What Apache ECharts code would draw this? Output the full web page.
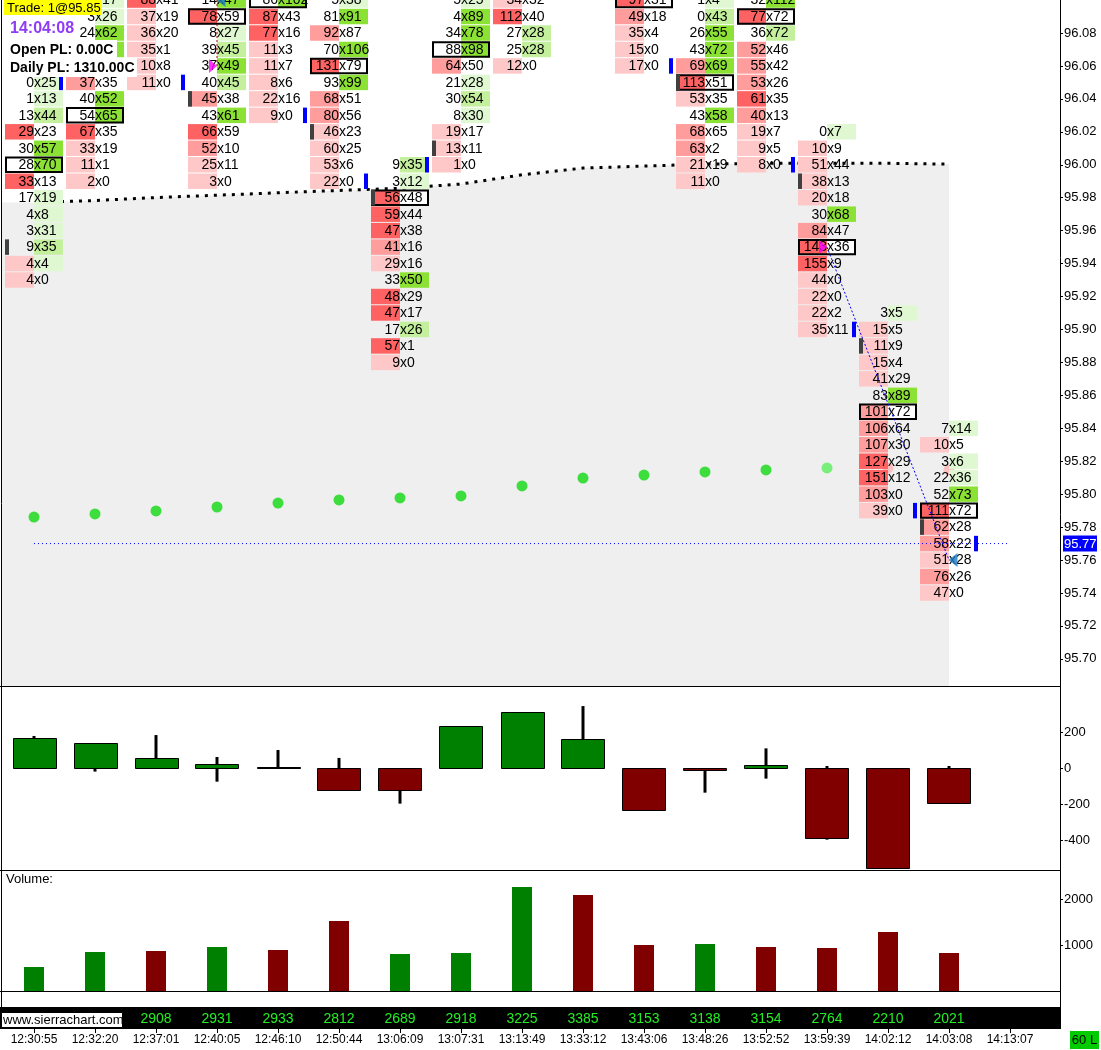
<!DOCTYPE html>
<html>
<head>
<meta charset="utf-8">
<title>Footprint</title>
<script src="https://cdn.jsdelivr.net/npm/echarts@6/dist/echarts.min.js"></script>
<style>
html, body { margin: 0; padding: 0; background: #fff; }
#chart { width: 1101px; height: 1050px; }
</style>
</head>
<body>
<div id="chart"></div>
<script>
// ---- data ----
var timeLabels = ['12:30:55', '12:32:20', '12:37:01', '12:40:05', '12:46:10', '12:50:44', '13:06:09', '13:07:31',
  '13:13:49', '13:33:12', '13:43:06', '13:48:26', '13:52:52', '13:59:39', '14:02:12', '14:03:08', '14:13:07'];

var priceTicks = [96.08, 96.06, 96.04, 96.02, 96.00, 95.98, 95.96, 95.94, 95.92, 95.90,
  95.88, 95.86, 95.84, 95.82, 95.80, 95.78, 95.76, 95.74, 95.72, 95.70];
var deltaTicks = [200, 0, -200, -400];
var volTicks = [1000, 2000];

// bid x ask per price level, listed from the top price of each bar downwards
var fp01 = [[0,25],[1,13],[13,44],[29,23],[30,57],[28,70],[33,13],[17,19],[4,8],[3,31],[9,35],[4,4],[4,0]];
var fp02 = [[5,17],[3,26],[24,62],[18,55],[9,50],[37,35],[40,52],[54,65],[67,35],[33,19],[11,1],[2,0]];
var fp03 = [[88,41],[37,19],[36,20],[35,1],[10,8],[11,0]];
var fp04 = [[14,47],[78,59],[8,27],[39,45],[37,49],[40,45],[45,38],[43,61],[66,59],[52,10],[25,11],[3,0]];
var fp05 = [[86,102],[87,43],[77,16],[11,3],[11,7],[8,6],[22,16],[9,0]];
var fp06 = [[5,38],[81,91],[92,87],[70,106],[131,79],[93,99],[68,51],[80,56],[46,23],[60,25],[53,6],[22,0]];
var fp07 = [[9,35],[3,12],[56,48],[59,44],[47,38],[41,16],[29,16],[33,50],[48,29],[47,17],[17,26],[57,1],[9,0]];
var fp08 = [[5,25],[4,89],[34,78],[88,98],[64,50],[21,28],[30,54],[8,30],[19,17],[13,11],[1,0]];
var fp09 = [[34,32],[112,40],[27,28],[25,28],[12,0]];
var fp10 = [];
var fp11 = [[97,31],[49,18],[35,4],[15,0],[17,0]];
var fp12 = [[1,4],[0,43],[26,55],[43,72],[69,69],[113,51],[53,35],[43,58],[68,65],[63,2],[21,19],[11,0]];
var fp13 = [[32,112],[77,72],[36,72],[52,46],[55,42],[53,26],[61,35],[40,13],[19,7],[9,5],[8,0]];
var fp14 = [[0,7],[10,9],[51,44],[38,13],[20,18],[30,68],[84,47],[143,36],[155,9],[44,0],[22,0],[22,2],[35,11]];
var fp15 = [[3,5],[15,5],[11,9],[15,4],[41,29],[83,89],[101,72],[106,64],[107,30],[127,29],[151,12],[103,0],[39,0]];
var fp16 = [[7,14],[10,5],[3,6],[22,36],[52,73],[111,72],[62,28],[58,22],[51,28],[76,26],[47,0]];
var fpCols = [fp01, fp02, fp03, fp04, fp05, fp06, fp07, fp08, fp09, fp10, fp11, fp12, fp13, fp14, fp15, fp16];

var fpTop = [96.05, 96.10, 96.10, 96.10, 96.10, 96.10, 96.00, 96.10, 96.10, null, 96.10, 96.10, 96.10, 96.02, 95.91, 95.84];
var fpPoc = [96.00, 96.03, null, 96.09, 96.10, 96.06, 95.98, 96.07, null, null, 96.10, 96.05, 96.09, 95.95, 95.85, 95.79];
var barOpen = [95.95, null, null, 96.04, null, 96.02, 95.98, 96.01, null, null, null, 96.05, null, 95.99, 95.89, 95.78];
var barClose = [96.05, null, 96.05, null, 96.03, 95.99, 96.00, null, null, null, 96.06, null, 96.00, 95.90, 95.79, 95.77];
var barUp = [1, 1, 0, 1, 0, 0, 1, 1, 1, 0, 0, 1, 0, 0, 0, 0];

// dotted study line and the dot study
var vwap = [95.9771, 95.9783, 95.9801, 95.9815, 95.9830, 95.9844, 95.9857, 95.9883,
  95.9939, 95.9980, 95.9992, 96.0004, 96.0009, 96.0009, 96.0009, 96.0004];
var dotVals = [95.7861, 95.7880, 95.7898, 95.7922, 95.7946, 95.7965, 95.7977, 95.7989,
  95.8050, 95.8098, 95.8116, 95.8135, 95.8147, 95.8159, 95.8159, 95.8147];

// delta candles (open is 0)
var deltaClose = [165, 137, 54, 20, 4, -124, -124, 231, 309, 159, -235, -10, 17, -391, -557, -193];
var deltaHigh = [178, 137, 183, 61, 100, 56, 0, 231, 309, 344, 0, 0, 109, 11, 0, 11];
var deltaLow = [0, -20, 0, -76, -5, -124, -198, 0, 0, 0, -235, -137, -59, -398, -557, -193];

var volume = [522, 848, 870, 957, 891, 1522, 804, 826, 2261, 2087, 1000, 1022, 957, 935, 1283, 826];
var bandNums = [null, null, 2908, 2931, 2933, 2812, 2689, 2918, 3225, 3385, 3153, 3138, 3154, 2764, 2210, 2021];

var lastPrice = 95.77;
var entryTrades = [[3, 96.06], [13, 95.95]];
var exitTrades = [[3, 96.10], [15, 95.76]];

// ---- styling / layout ----
var F_REG = '"Liberation Sans", Arial, sans-serif';
var RED = ['', '#ffc8c8', '#ff9c9c', '#ff6262'];
var GREEN = ['', '#e0f8d2', '#c4f09e', '#8ce234'];
var X_MIN = -32 / 61, X_MAX = 1026 / 61;

function shade(v, max) {
  if (!v || !max) return 0;
  var r = v / max;
  return r >= 0.75 ? 3 : (r >= 0.495 ? 2 : 1);
}

var cellData = [];
fpCols.forEach(function (cells, col) {
  if (!cells.length) return;
  var bidMax = Math.max.apply(null, cells.map(function (c) { return c[0]; }));
  var askMax = Math.max.apply(null, cells.map(function (c) { return c[1]; }));
  cells.forEach(function (c, k) {
    var price = +(fpTop[col] - k * 0.01).toFixed(2);
    var bl = c[0] >= c[1] ? shade(c[0], bidMax) : 0;
    var al = c[1] >= c[0] ? shade(c[1], askMax) : 0;
    cellData.push([col, price, c[0], c[1], bl, al, fpPoc[col] === price ? 1 : 0]);
  });
});

var markerData = [];
barOpen.forEach(function (p, i) { if (p != null) markerData.push([i, p, 0]); });
barClose.forEach(function (p, i) { if (p != null) markerData.push([i, p, 1]); });

function renderCell(params, api) {
  var c = api.coord([api.value(0), api.value(1)]);
  var rowH = api.size([0, 0.01])[1];
  var hw = 29, top = c[1] - rowH / 2 + 0.5, h = rowH - 1;
  var bl = api.value(4), al = api.value(5), poc = api.value(6);
  var ch = [];
  if (poc) ch.push({ type: 'rect', shape: { x: c[0] - hw, y: top, width: hw * 2, height: h }, style: { fill: '#fff' } });
  if (bl) ch.push({ type: 'rect', shape: { x: c[0] - hw, y: top, width: hw, height: h }, style: { fill: RED[bl] } });
  if (al) ch.push({ type: 'rect', shape: { x: c[0], y: top, width: hw, height: h }, style: { fill: GREEN[al] } });
  if (poc) ch.push({ type: 'rect', shape: { x: c[0] - hw + 1, y: top + 0.5, width: hw * 2 - 2, height: h - 1 },
    style: { fill: 'none', stroke: '#000', lineWidth: 2 } });
  ch.push({ type: 'text', style: { text: String(api.value(2)), x: c[0], y: c[1] + 0.5, align: 'right',
    verticalAlign: 'middle', font: '14px ' + F_REG, fill: '#000' } });
  ch.push({ type: 'text', style: { text: 'x' + api.value(3), x: c[0], y: c[1] + 0.5, align: 'left',
    verticalAlign: 'middle', font: '14px ' + F_REG, fill: '#000' } });
  return { type: 'group', children: ch };
}

function renderMarker(params, api) {
  var c = api.coord([api.value(0), api.value(1)]);
  var rowH = api.size([0, 0.01])[1];
  var isClose = api.value(2) === 1;
  return { type: 'rect', shape: { x: isClose ? c[0] + 25 : c[0] - 29, y: c[1] - rowH / 2 + 0.5, width: 4, height: rowH - 1 },
    style: { fill: isClose ? '#0000ff' : '#404040' } };
}

function renderDelta(params, api) {
  var i = api.value(0);
  var p0 = api.coord([i, 0]), pc = api.coord([i, api.value(1)]);
  var ph = api.coord([i, api.value(2)]), pl = api.coord([i, api.value(3)]);
  var top = Math.min(p0[1], pc[1]), hgt = Math.max(Math.abs(pc[1] - p0[1]), 1);
  return { type: 'group', children: [
    { type: 'rect', shape: { x: p0[0] - 1.5, y: ph[1], width: 3, height: Math.max(pl[1] - ph[1], 1) }, style: { fill: '#000' } },
    { type: 'rect', shape: { x: Math.round(p0[0] - 21.5) + 0.5, y: Math.round(top) + 0.5, width: 43, height: Math.round(hgt) },
      style: { fill: api.value(1) >= 0 ? '#008000' : '#800000', stroke: '#000', lineWidth: 1 } }
  ] };
}

function renderVol(params, api) {
  var i = api.value(0);
  var p0 = api.coord([i, 0]), pv = api.coord([i, api.value(1)]);
  return { type: 'rect', shape: { x: p0[0] - 10, y: pv[1], width: 20, height: p0[1] - pv[1] },
    style: { fill: api.value(2) ? '#008000' : '#800000' } };
}

function renderBandNum(params, api) {
  var c = api.coord([api.value(0), 0.5]);
  return { type: 'text', style: { text: String(api.value(1)), x: c[0], y: c[1] + 1, align: 'center',
    verticalAlign: 'middle', font: '14px ' + F_REG, fill: '#22ee22' } };
}

function renderPriceTag(params, api) {
  var c = api.coord([api.value(0), api.value(1)]);
  return { type: 'group', children: [
    { type: 'rect', shape: { x: c[0] + 3, y: c[1] - 8, width: 34, height: 16 }, style: { fill: '#0000ff' } },
    { type: 'text', style: { text: api.value(1).toFixed(2), x: c[0] + 4, y: c[1] + 0.5, align: 'left',
      verticalAlign: 'middle', font: '13px ' + F_REG, fill: '#fff' } }
  ] };
}

function xAxisHidden(gi) {
  return { type: 'value', gridIndex: gi, min: X_MIN, max: X_MAX, show: false };
}

function yAxisRight(gi, min, max, ticks, fmt) {
  return {
    type: 'value', gridIndex: gi, position: 'right', min: min, max: max,
    axisLine: { show: false, onZero: false },
    splitLine: { show: false },
    axisTick: { show: true, length: 3, lineStyle: { color: '#000' }, customValues: ticks },
    axisLabel: { show: true, margin: 4, color: '#000', fontSize: 13, fontFamily: F_REG,
      customValues: ticks, formatter: fmt }
  };
}

var idx = timeLabels.map(function (t, i) { return i; });
var chart = echarts.init(document.getElementById('chart'), null, { renderer: 'canvas' });

var option = {
  animation: false,
  backgroundColor: '#fff',
  grid: [
    { left: 2, right: 41, top: 0, height: 686, outerBoundsMode: 'none' },
    { left: 2, right: 41, top: 686, height: 184, outerBoundsMode: 'none' },
    { left: 2, right: 41, top: 870, height: 121, outerBoundsMode: 'none' },
    { left: 2, right: 41, top: 1007, height: 22, outerBoundsMode: 'none' }
  ],
  xAxis: [
    xAxisHidden(0), xAxisHidden(1), xAxisHidden(2),
    {
      type: 'value', gridIndex: 3, min: X_MIN, max: X_MAX, position: 'bottom',
      axisLine: { show: false, onZero: false }, splitLine: { show: false },
      axisTick: { show: true, length: 4, lineStyle: { color: '#000' }, customValues: idx },
      axisLabel: { show: true, margin: 5, color: '#000', fontSize: 12, fontFamily: F_REG, customValues: idx,
        formatter: function (v) { return timeLabels[Math.round(v)]; } }
    }
  ],
  yAxis: [
    yAxisRight(0, 96.08 - 653 / 1647, 96.08 + 33 / 1647, priceTicks, function (v) { return v.toFixed(2); }),
    yAxisRight(1, -102 / 0.18, 82 / 0.18, deltaTicks, function (v) { return String(Math.round(v)); }),
    yAxisRight(2, 0, 121 / 0.046, volTicks, function (v) { return String(Math.round(v)); }),
    { type: 'value', gridIndex: 3, min: 0, max: 1, show: false }
  ],
  series: [
    { // shaded region under the dotted study
      type: 'line', xAxisIndex: 0, yAxisIndex: 0, z: 1, silent: true, symbol: 'none',
      data: [[X_MIN, vwap[0]]].concat(vwap.map(function (v, i) { return [i, v]; })),
      lineStyle: { width: 0, opacity: 0 }, areaStyle: { color: '#efefef', opacity: 1, origin: 'start' }
    },
    {
      type: 'line', xAxisIndex: 0, yAxisIndex: 0, z: 2, silent: true, symbol: 'none',
      data: vwap.map(function (v, i) { return [i, v]; }),
      lineStyle: { color: '#000', width: 3, type: [3, 6] }
    },
    {
      type: 'scatter', xAxisIndex: 0, yAxisIndex: 0, z: 2, silent: true, symbolSize: 11,
      data: dotVals.map(function (v, i) { return [i, v]; }),
      itemStyle: { color: function (p) { return p.dataIndex < 13 ? '#10d810' : (p.dataIndex === 13 ? '#5cee5c' : '#ffb4b4'); } }
    },
    {
      type: 'custom', xAxisIndex: 0, yAxisIndex: 0, z: 3, silent: true,
      renderItem: renderCell, data: cellData, encode: { x: 0, y: 1 }
    },
    {
      type: 'custom', xAxisIndex: 0, yAxisIndex: 0, z: 4, silent: true,
      renderItem: renderMarker, data: markerData, encode: { x: 0, y: 1 }
    },
    { // trade connector lines
      type: 'line', xAxisIndex: 0, yAxisIndex: 0, z: 5, silent: true, symbol: 'none',
      data: [entryTrades[1], exitTrades[1]], lineStyle: { color: '#0000ff', width: 1, type: [2, 2] }
    },
    {
      type: 'line', xAxisIndex: 0, yAxisIndex: 0, z: 5, silent: true, symbol: 'none',
      data: [exitTrades[0], entryTrades[0]], lineStyle: { color: '#990000', width: 1, type: [2, 2] }
    },
    { // last price line
      type: 'line', xAxisIndex: 0, yAxisIndex: 0, z: 5, silent: true, symbol: 'none',
      data: [[0, lastPrice], [16, lastPrice]], lineStyle: { color: '#0000ff', width: 1, type: [1, 3] }
    },
    {
      type: 'scatter', xAxisIndex: 0, yAxisIndex: 0, z: 6, silent: true,
      symbol: 'path://M0,0L8,7L0,14Z', symbolSize: [8, 14], symbolOffset: [-4, 0],
      data: entryTrades, itemStyle: { color: '#ff00ff' }
    },
    {
      type: 'scatter', xAxisIndex: 0, yAxisIndex: 0, z: 6, silent: true,
      symbol: 'path://M9,0L0,7L9,14Z', symbolSize: [9, 14], symbolOffset: [4, 0],
      data: exitTrades, itemStyle: { color: '#1a7ac4' }
    },
    {
      type: 'custom', xAxisIndex: 0, yAxisIndex: 0, z: 6, silent: true,
      renderItem: renderPriceTag, data: [[X_MAX, lastPrice]], encode: { x: 0, y: 1 }
    },
    {
      type: 'custom', xAxisIndex: 1, yAxisIndex: 1, z: 3, silent: true, renderItem: renderDelta,
      data: deltaClose.map(function (c, i) { return [i, c, deltaHigh[i], deltaLow[i]]; }), encode: { x: 0, y: [1, 2, 3] }
    },
    {
      type: 'custom', xAxisIndex: 2, yAxisIndex: 2, z: 3, silent: true, renderItem: renderVol,
      data: volume.map(function (v, i) { return [i, v, barUp[i]]; }), encode: { x: 0, y: 1 }
    },
    {
      type: 'custom', xAxisIndex: 3, yAxisIndex: 3, z: 3, silent: true, renderItem: renderBandNum,
      data: bandNums.map(function (n, i) { return [i, n]; }).filter(function (d) { return d[1] != null; }),
      encode: { x: 0 }
    }
  ],
  graphic: [
    { type: 'line', z: 0, silent: true, shape: { x1: 1.5, y1: 0, x2: 1.5, y2: 1007 }, style: { stroke: '#000', lineWidth: 1 } },
    { type: 'line', z: 0, silent: true, shape: { x1: 0, y1: 686.5, x2: 1060, y2: 686.5 }, style: { stroke: '#000', lineWidth: 1 } },
    { type: 'line', z: 0, silent: true, shape: { x1: 0, y1: 870.5, x2: 1060, y2: 870.5 }, style: { stroke: '#000', lineWidth: 1 } },
    { type: 'line', z: 0, silent: true, shape: { x1: 0, y1: 991.5, x2: 1060, y2: 991.5 }, style: { stroke: '#000', lineWidth: 1 } },
    { type: 'rect', z: 0, silent: true, shape: { x: 0, y: 1007, width: 1061, height: 22 }, style: { fill: '#000' } },
    { type: 'line', z: 0, silent: true, shape: { x1: 1060.5, y1: 0, x2: 1060.5, y2: 1029 }, style: { stroke: '#000', lineWidth: 1 } },

    { type: 'rect', z: 100, silent: true, shape: { x: 4, y: 0, width: 98, height: 15 }, style: { fill: '#ffff00' } },
    { type: 'text', z: 101, silent: true, x: 7, y: 8, style: { text: 'Trade: 1@95.85', font: '13px ' + F_REG, fill: '#000', verticalAlign: 'middle' } },
    { type: 'rect', z: 100, silent: true, shape: { x: 3, y: 15, width: 73, height: 25 }, style: { fill: '#fff' } },
    { type: 'text', z: 101, silent: true, x: 10, y: 29, style: { text: '14:04:08', font: 'bold 16px ' + F_REG, fill: '#8f3cf5', verticalAlign: 'middle' } },
    { type: 'rect', z: 100, silent: true, shape: { x: 3, y: 40, width: 114, height: 18 }, style: { fill: '#fff' } },
    { type: 'text', z: 101, silent: true, x: 10, y: 50, style: { text: 'Open PL: 0.00C', font: 'bold 14px ' + F_REG, fill: '#000', verticalAlign: 'middle' } },
    { type: 'rect', z: 100, silent: true, shape: { x: 3, y: 58, width: 134, height: 19 }, style: { fill: '#fff' } },
    { type: 'text', z: 101, silent: true, x: 10, y: 68, style: { text: 'Daily PL: 1310.00C', font: 'bold 14px ' + F_REG, fill: '#000', verticalAlign: 'middle' } },

    { type: 'text', z: 101, silent: true, x: 6, y: 879, style: { text: 'Volume:', font: '13px ' + F_REG, fill: '#000', verticalAlign: 'middle' } },

    { type: 'rect', z: 100, silent: true, shape: { x: 1.5, y: 1012.5, width: 121, height: 15 }, style: { fill: '#fff', stroke: '#000', lineWidth: 1 } },
    { type: 'text', z: 101, silent: true, x: 3, y: 1020, style: { text: 'www.sierrachart.com', font: '13px ' + F_REG, fill: '#000', verticalAlign: 'middle' } },

    { type: 'rect', z: 100, silent: true, shape: { x: 1070, y: 1031, width: 29, height: 18 }, style: { fill: '#00cc00' } },
    { type: 'text', z: 101, silent: true, x: 1084.5, y: 1040, style: { text: '60 L', font: '13px ' + F_REG, fill: '#000', align: 'center', verticalAlign: 'middle' } }
  ]
};

chart.setOption(option);
</script>
</body>
</html>
